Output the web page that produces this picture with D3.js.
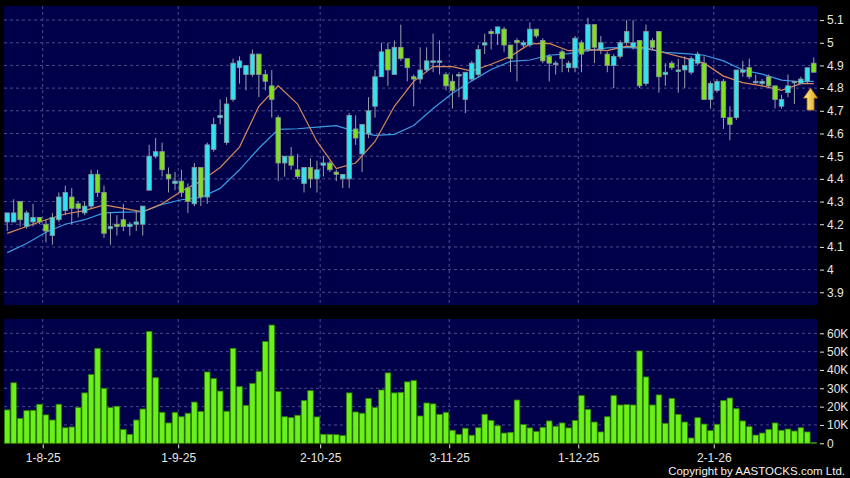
<!DOCTYPE html>
<html>
<head>
<meta charset="utf-8">
<script src="https://cdn.jsdelivr.net/npm/d3@7"></script>
<style>
  body { margin: 0; background: #000; }
  svg { display: block; font-family: "DejaVu Sans", sans-serif; }
</style>
</head>
<body>
<div id="chart"></div>
<script>
// daily candles, oldest first
const opens = [4.21,4.21,4.30,4.19,4.21,4.23,4.20,4.15,4.22,4.26,4.32,4.29,4.25,4.28,4.42,4.34,4.18,4.20,4.22,4.19,
  4.20,4.20,4.35,4.50,4.52,4.42,4.38,4.39,4.36,4.29,4.45,4.32,4.53,4.67,4.56,4.75,4.89,4.86,4.86,4.95,
  4.86,4.81,4.67,4.47,4.50,4.44,4.38,4.45,4.40,4.46,4.47,4.43,4.40,4.40,4.62,4.51,4.60,4.72,4.85,4.97,
  4.86,4.98,4.93,4.85,4.84,4.88,4.92,4.92,4.86,4.83,4.86,4.75,4.84,4.86,4.99,5.05,5.04,5.06,4.99,5.01,
  4.99,4.99,5.06,5.01,4.94,4.91,4.96,4.89,4.89,5.00,4.97,5.08,4.97,4.95,4.90,4.94,5.00,4.98,5.01,4.82,
  5.01,5.05,4.86,4.91,4.88,4.88,4.87,4.91,4.91,4.75,4.79,4.83,4.67,4.67,4.87,4.89,4.83,4.82,4.85,4.81,
  4.72,4.78,4.83,4.82,4.83,4.91];
const highs = [4.25,4.31,4.30,4.26,4.29,4.23,4.22,4.25,4.34,4.37,4.36,4.30,4.30,4.44,4.44,4.37,4.25,4.24,4.29,4.21,
  4.26,4.28,4.55,4.58,4.56,4.45,4.43,4.44,4.38,4.47,4.45,4.56,4.67,4.75,4.76,4.93,4.94,4.90,4.97,4.95,
  4.88,4.88,4.68,4.50,4.54,4.51,4.45,4.49,4.48,4.50,4.48,4.44,4.42,4.69,4.68,4.64,4.76,4.88,5.00,5.00,
  5.01,5.08,4.93,4.86,4.98,4.98,5.04,5.01,4.87,4.86,4.87,4.87,4.92,4.99,5.04,5.06,5.07,5.07,4.99,5.02,
  5.01,5.09,5.06,5.02,4.95,4.92,4.97,4.92,5.03,5.01,5.11,5.08,5.03,4.96,4.95,5.01,5.10,5.10,5.01,5.08,
  5.02,5.05,4.91,4.92,4.93,4.94,4.94,4.96,4.94,4.83,4.84,4.84,4.72,4.88,4.92,4.93,4.86,4.84,4.86,4.81,
  4.77,4.86,4.83,4.85,4.89,4.935];
const lows = [4.17,4.21,4.19,4.18,4.19,4.20,4.12,4.11,4.21,4.24,4.20,4.23,4.24,4.27,4.32,4.14,4.11,4.15,4.17,4.15,
  4.17,4.15,4.35,4.49,4.41,4.34,4.35,4.32,4.25,4.28,4.28,4.29,4.52,4.64,4.55,4.74,4.82,4.79,4.85,4.76,
  4.79,4.67,4.39,4.41,4.44,4.40,4.34,4.36,4.34,4.41,4.43,4.39,4.36,4.36,4.55,4.43,4.58,4.67,4.85,4.81,
  4.86,4.92,4.83,4.72,4.82,4.87,4.87,4.86,4.79,4.71,4.76,4.69,4.83,4.85,4.95,4.97,4.99,4.96,4.87,4.83,
  4.98,4.98,5.02,4.91,4.83,4.86,4.87,4.87,4.87,4.87,4.96,4.91,4.95,4.87,4.80,4.93,4.99,4.97,4.80,4.81,
  4.97,4.78,4.81,4.88,4.78,4.80,4.86,4.90,4.75,4.71,4.78,4.62,4.57,4.66,4.85,4.84,4.82,4.81,4.80,4.71,
  4.71,4.76,4.73,4.82,4.82,4.87];
const closes = [4.25,4.25,4.22,4.25,4.23,4.21,4.17,4.23,4.32,4.34,4.27,4.27,4.28,4.42,4.34,4.16,4.19,4.19,4.19,4.20,
  4.21,4.28,4.50,4.52,4.44,4.40,4.39,4.34,4.30,4.45,4.32,4.55,4.64,4.68,4.73,4.91,4.92,4.90,4.95,4.86,
  4.83,4.75,4.47,4.50,4.46,4.41,4.45,4.40,4.44,4.47,4.44,4.42,4.42,4.68,4.58,4.64,4.70,4.85,4.96,4.88,
  4.98,4.93,4.89,4.84,4.88,4.92,4.92,4.92,4.81,4.79,4.86,4.87,4.91,4.97,5.00,5.04,5.07,4.99,4.93,5.00,
  5.00,5.06,5.03,4.92,4.91,4.91,4.93,4.91,5.02,4.95,5.08,4.98,5.00,4.90,4.94,5.00,5.05,5.00,4.81,5.05,
  4.98,4.85,4.87,4.89,4.88,4.90,4.93,4.95,4.75,4.82,4.83,4.67,4.64,4.88,4.88,4.85,4.83,4.83,4.81,4.75,
  4.75,4.81,4.83,4.84,4.89,4.87];
// volume in thousands of shares
const volumes = [18.2,33,13.6,17.8,18,21.3,15.5,12.7,21.3,8.5,8.9,19.5,27.5,37.5,51.8,30,19.5,20.2,7.5,4.9,
  12.7,18.7,61,35.8,16.9,11.1,16.9,14.5,16.4,22.5,17.3,38.9,35.3,28.5,17.5,51.8,30.9,20.7,32.7,39.1,
  55.5,64.5,28.2,14.5,14,15.3,23.3,28.7,14.4,4.9,4.9,4.7,4.2,27.5,17.1,16.4,24.5,19.6,29.1,38.4,
  27.5,27.8,33.5,34.2,14.9,22,21.5,15.8,16.9,7.1,4.9,8.2,4.4,8.5,15.8,12.4,9.6,5.6,6,23.6,
  10.2,8.4,6.4,8.7,12.2,9.3,11.1,8.4,12.5,26,18.5,11.6,6.2,14.5,26,20.9,21.1,20.9,50.4,36.2,
  20.9,26.4,10.9,24.5,15.8,11.6,2.9,14,10.5,6.9,10.4,23.3,24.7,18.9,12.2,9.1,4.5,5.6,7.6,11.1,
  7.1,7.8,6.7,8.5,6.2,0.5];

// moving averages at these bar positions
const maIndex = [0,3,6,9,12,15,18,21,24,27,30,33,36,39,42,45,48,51,54,57,60,63,66,69,72,75,78,81,84,87,
  90,93,96,99,102,105,108,111,114,117,120,123,125];
const maShort = [4.16,4.19,4.22,4.245,4.26,4.285,4.27,4.255,4.29,4.345,4.39,4.45,4.54,4.72,4.81,4.73,4.565,4.445,4.47,4.565,
  4.72,4.83,4.895,4.895,4.875,4.905,4.94,4.995,4.997,4.965,4.97,4.965,4.985,4.978,4.955,4.933,4.91,4.853,4.824,4.81,
  4.79,4.82,4.82];
const maLong = [4.075,4.115,4.165,4.20,4.22,4.25,4.253,4.255,4.287,4.308,4.318,4.358,4.44,4.535,4.618,4.621,4.628,4.635,4.608,4.592,
  4.596,4.635,4.71,4.777,4.832,4.882,4.918,4.924,4.945,4.952,4.965,4.977,4.98,4.973,4.958,4.952,4.945,4.92,4.88,4.862,
  4.835,4.828,4.83];

const dateTickIndex = [5, 26, 48, 68, 88, 109];
const dateTickLabels = ["1-8-25", "1-9-25", "2-10-25", "3-11-25", "1-12-25", "2-1-26"];
const priceTicks = [3.9, 4, 4.1, 4.2, 4.3, 4.4, 4.5, 4.6, 4.7, 4.8, 4.9, 5, 5.1];
const volumeTicks = [0, 10, 20, 30, 40, 50, 60];
const arrowAt = 125;       // bar boundary where the arrow sits
const arrowPrice = 4.80;   // price at the arrow tip

const width = 850, height = 478;
const left = 4, right = 817;
const mainTop = 6, mainBottom = 305;
const volTop = 319, volBottom = 443.3;

const n = closes.length;
const x = d3.scaleBand().domain(d3.range(n)).range([left, right]).paddingInner(0.14).paddingOuter(0.07);
const xl = d3.scaleLinear().domain([0, n]).range([left, right]); // bar boundaries
const xc = i => x(i) + x.bandwidth() / 2;

const y = d3.scaleLinear().domain([3.844, 5.162]).range([mainBottom, mainTop]);
const yv = d3.scaleLinear().domain([0, 67.8]).range([volBottom, volTop]);

const svg = d3.select("#chart").append("svg")
  .attr("width", width).attr("height", height);

svg.append("rect").attr("width", width).attr("height", height).attr("fill", "#000");
svg.append("rect").attr("x", left).attr("y", mainTop).attr("width", right - left).attr("height", mainBottom - mainTop)
  .attr("fill", "#00004a");
svg.append("rect").attr("x", left).attr("y", volTop).attr("width", right - left).attr("height", volBottom - volTop)
  .attr("fill", "#00004a");

const gridColor = "#4c4c8c";

// horizontal grid
svg.append("g").selectAll("line").data(priceTicks).enter().append("line")
  .attr("x1", left).attr("x2", right)
  .attr("y1", d => y(d)).attr("y2", d => y(d))
  .attr("stroke", gridColor).attr("stroke-dasharray", "3,3");
svg.append("g").selectAll("line").data(volumeTicks.slice(1)).enter().append("line")
  .attr("x1", left).attr("x2", right)
  .attr("y1", d => yv(d)).attr("y2", d => yv(d))
  .attr("stroke", gridColor).attr("stroke-dasharray", "3,3");

// vertical grid, both panels
[[mainTop, mainBottom], [volTop, volBottom]].forEach(([t, b]) => {
  svg.append("g").selectAll("line").data(dateTickIndex).enter().append("line")
    .attr("x1", d => xl(d + 1)).attr("x2", d => xl(d + 1))
    .attr("y1", t).attr("y2", b)
    .attr("stroke", gridColor).attr("stroke-dasharray", "3,3");
});

// moving averages
const maLine = d3.line().x((d, k) => xc(maIndex[k])).y(d => y(d));
svg.append("path").attr("d", maLine(maLong)).attr("fill", "none")
  .attr("stroke", "#3a9de6").attr("stroke-width", 1.2);
svg.append("path").attr("d", maLine(maShort)).attr("fill", "none")
  .attr("stroke", "#d98858").attr("stroke-width", 1.2);

// candles
const candles = svg.append("g").selectAll("g").data(d3.range(n)).enter().append("g");
candles.append("line")
  .attr("x1", i => xc(i)).attr("x2", i => xc(i))
  .attr("y1", i => y(highs[i])).attr("y2", i => y(lows[i]))
  .attr("stroke", "#9aa0a8").attr("stroke-width", 1);
candles.append("rect")
  .attr("x", i => x(i) + 0.5)
  .attr("width", x.bandwidth() - 1)
  .attr("y", i => y(Math.max(opens[i], closes[i])))
  .attr("height", i => Math.max(1.5, y(Math.min(opens[i], closes[i])) - y(Math.max(opens[i], closes[i]))))
  .attr("fill", i => closes[i] >= opens[i] ? "#2fe4f0" : "#7fe01e")
  .attr("stroke", "#8a9498").attr("stroke-width", 0.8);

// volume bars
svg.append("g").selectAll("rect").data(volumes).enter().append("rect")
  .attr("x", (d, i) => x(i))
  .attr("width", x.bandwidth())
  .attr("y", d => yv(d))
  .attr("height", d => volBottom - yv(d))
  .attr("fill", "#6cf01c").attr("stroke", "#2f7f00").attr("stroke-width", 0.8);

// latest-move arrow
const grad = svg.append("defs").append("linearGradient").attr("id", "arrowGrad")
  .attr("x1", 0).attr("x2", 1).attr("y1", 0).attr("y2", 0);
grad.append("stop").attr("offset", "0%").attr("stop-color", "#fff2a0");
grad.append("stop").attr("offset", "100%").attr("stop-color", "#e0a010");
svg.append("path")
  .attr("transform", `translate(${xl(arrowAt)},${y(arrowPrice)})`)
  .attr("d", "M0,0 L7,10 L3.5,10 L3.5,22 L-3.5,22 L-3.5,10 L-7,10 Z")
  .attr("fill", "url(#arrowGrad)").attr("stroke", "#b07800").attr("stroke-width", 0.8);

// axes
const axisColor = "#e6e6e6";
const styleAxis = g => {
  g.select(".domain").remove();
  g.selectAll("line").attr("stroke", axisColor);
  g.selectAll("text").attr("fill", axisColor).style("font-size", "12px");
};

svg.append("g").attr("transform", `translate(${right + 3},0)`)
  .call(d3.axisRight(y).tickValues(priceTicks).tickSize(4).tickPadding(3).tickFormat(d3.format("")))
  .call(styleAxis);

svg.append("g").attr("transform", `translate(${right + 3},0)`)
  .call(d3.axisRight(yv).tickValues(volumeTicks).tickSize(4).tickPadding(3)
    .tickFormat(d => d === 0 ? "0" : d + "K"))
  .call(styleAxis);

svg.append("g").attr("transform", `translate(0,${volBottom + 1})`)
  .call(d3.axisBottom(xl).tickValues(dateTickIndex.map(d => d + 1)).tickSize(4).tickPadding(5)
    .tickFormat((d, k) => dateTickLabels[k]))
  .call(styleAxis);

svg.append("text").attr("x", 845).attr("y", 475).attr("text-anchor", "end")
  .attr("fill", "#f0f0f0").style("font-family", "'Liberation Sans', Arial, sans-serif").style("font-size", "11.5px")
  .text("Copyright by AASTOCKS.com Ltd.");
</script>
</body>
</html>
